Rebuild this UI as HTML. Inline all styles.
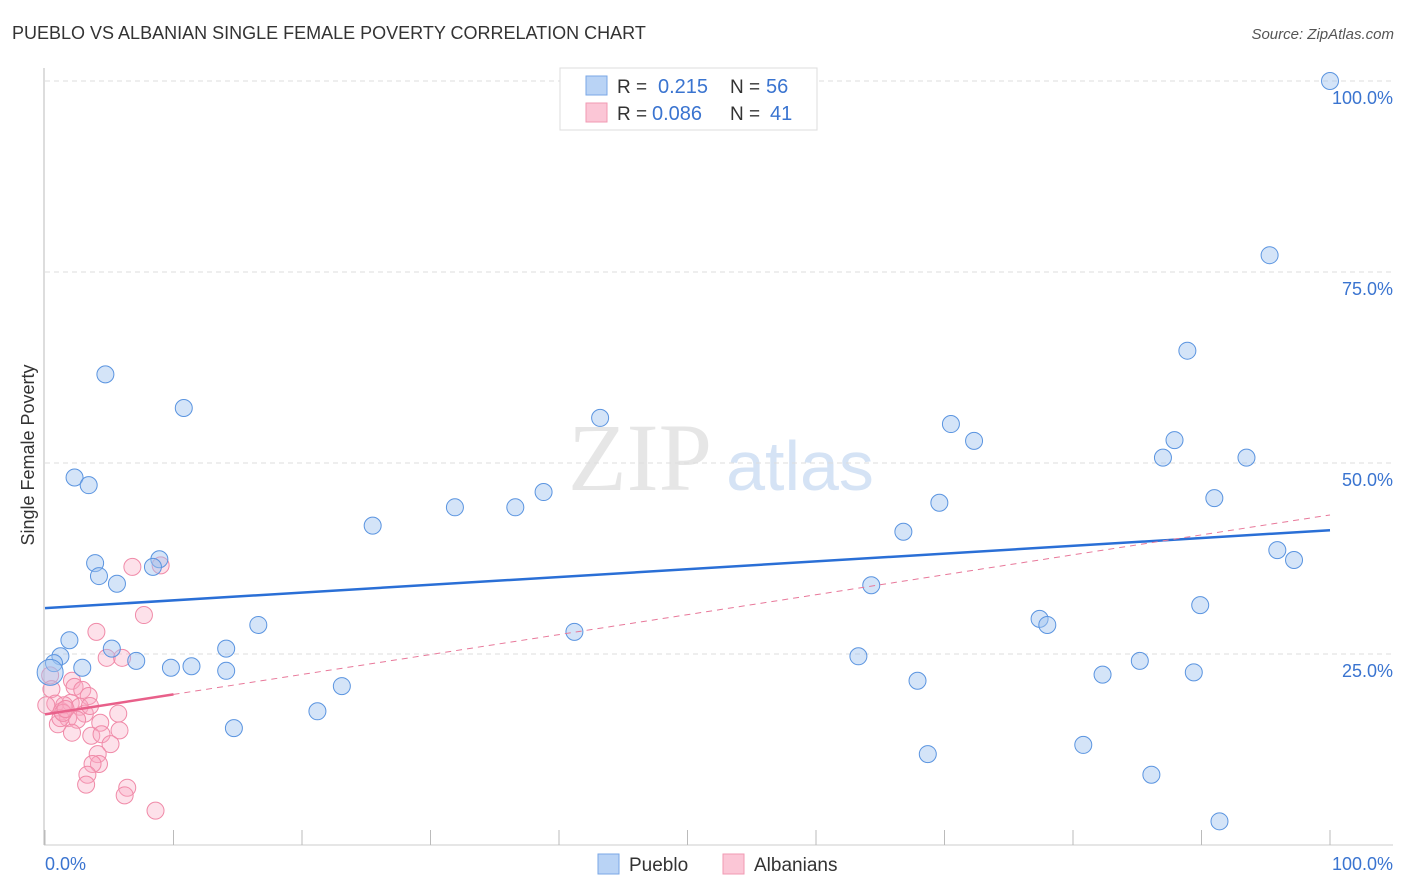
<!DOCTYPE html>
<html><head><meta charset="utf-8"><style>
body{margin:0;background:#fff;font-family:"Liberation Sans",sans-serif;}
svg{display:block}
</style></head><body>
<svg id="c" width="1406" height="892">
<text x="12" y="39" font-size="18" fill="#333">PUEBLO VS ALBANIAN SINGLE FEMALE POVERTY CORRELATION CHART</text>
<text x="1394" y="39" font-size="15" fill="#555" font-style="italic" text-anchor="end">Source: ZipAtlas.com</text>
<text x="34" y="455" font-size="18" fill="#333" text-anchor="middle" transform="rotate(-90 34 455)">Single Female Poverty</text>
<text x="640" y="490" font-size="96" fill="#e6e6e6" font-family="Liberation Serif,serif" text-anchor="middle">ZIP</text>
<text x="800" y="490" font-size="70" fill="#d5e3f5" text-anchor="middle">atlas</text>
<g id="grid"></g><g id="pts"></g><g id="lines"></g>
<g>
<rect x="560" y="68" width="257" height="62" fill="#fff" stroke="#ddd"/>
<rect x="586" y="76" width="21" height="19" fill="#b9d3f5" stroke="#7aa7e6"/>
<rect x="586" y="103" width="21" height="19" fill="#fbc6d6" stroke="#f09ab3"/>
<text x="617" y="93" font-size="19" fill="#333">R = </text><text x="658" y="93" font-size="20" fill="#3a74d0">0.215</text>
<text x="730" y="93" font-size="19" fill="#333">N = </text><text x="766" y="93" font-size="20" fill="#3a74d0">56</text>
<text x="617" y="120" font-size="19" fill="#333">R = </text><text x="652" y="120" font-size="20" fill="#3a74d0">0.086</text>
<text x="730" y="120" font-size="19" fill="#333">N = </text><text x="770" y="120" font-size="20" fill="#3a74d0">41</text>
</g>
<g>
<rect x="598" y="854" width="21" height="20" fill="#b9d3f5" stroke="#7aa7e6"/>
<text x="629" y="871" font-size="19" fill="#333">Pueblo</text>
<rect x="723" y="854" width="21" height="20" fill="#fbc6d6" stroke="#f09ab3"/>
<text x="754" y="871" font-size="19" fill="#333">Albanians</text>
</g>
</svg>
<script>
const yTicks=[25,50,75,100];
const yTickLabels=["25.0%","50.0%","75.0%","100.0%"];
const xTickLabels=["0.0%","100.0%"];
const puebloX=[100,95.3,88.9,4.7,10.8,43.2,70.5,72.3,87.9,87,93.5,2.3,3.4,38.8,31.9,36.6,69.6,91,25.5,66.8,95.9,97.2,3.9,8.9,8.4,4.2,5.6,64.3,89.9,16.6,77.4,78,41.2,1.9,5.2,14.1,1.2,0.7,2.9,7.1,9.8,11.4,14.1,63.3,85.2,82.3,89.4,0.4,23.1,67.9,21.2,14.7,80.8,68.7,86.1,91.4];
const puebloY=[100,77.2,64.7,61.6,57.2,55.9,55.1,52.9,53,50.7,50.7,48.1,47.1,46.2,44.2,44.2,44.8,45.4,41.8,41,38.6,37.3,36.9,37.4,36.4,35.2,34.2,34,31.4,28.8,29.6,28.8,27.9,26.8,25.7,25.7,24.7,23.8,23.2,24.1,23.2,23.4,22.8,24.7,24.1,22.3,22.6,22.6,20.8,21.5,17.5,15.3,13.1,11.9,9.2,3.1];
const albX=[6.8,9,7.7,4,4.8,6,0.4,0.5,0.8,1.3,1,2.1,2.3,2,1.8,2.9,3.4,2.7,3.1,2.5,3.5,4.3,2.1,3.6,5.7,4.4,5.8,5.1,4.1,4.2,3.7,3.3,3.2,6.4,6.2,8.6,1.5,1.2,1.4,0.1,1.6];
const albY=[36.4,36.6,30.1,27.9,24.5,24.5,22.2,20.4,18.5,17.5,15.8,21.5,20.7,18.6,16.6,20.3,19.5,18.1,17.2,16.4,18.2,16,14.7,14.3,17.2,14.5,15,13.2,11.9,10.6,10.6,9.2,7.9,7.5,6.5,4.5,18.3,16.6,17.3,18.3,17.8];
const blueTrend=[31.0,41.2];
const pinkTrend=[17.1,43.2];
const pinkSolidEnd=10;
const NS="http://www.w3.org/2000/svg";
const X=v=>45+v*12.85, Y=v=>845-v*7.64;
function mk(t,a,p){const e=document.createElementNS(NS,t);for(const k in a)e.setAttribute(k,a[k]);p.appendChild(e);return e;}
const grid=document.getElementById('grid');
mk('line',{x1:44,y1:68,x2:44,y2:845,stroke:'#bbb'},grid);
mk('line',{x1:44,y1:845,x2:1393,y2:845,stroke:'#ccc'},grid);
for(let i=0;i<=10;i++){const l=mk('line',{x1:X(i*10),x2:X(i*10),y1:830,y2:845,stroke:'#bbb'},grid);

}
yTicks.forEach((t,i)=>{const l=mk('line',{x1:45,x2:1393,y1:Y(t),y2:Y(t),stroke:'#ddd','stroke-dasharray':'5,4'},grid);


const tx=mk('text',{x:1393,y:Y(t)+23,'font-size':18,fill:'#3a74d0','text-anchor':'end'},grid);tx.textContent=yTickLabels[i];

});
const xl0=mk('text',{x:45,y:870,'font-size':18,fill:'#3a74d0'},grid);xl0.textContent=xTickLabels[0];


const xl1=mk('text',{x:1393,y:870,'font-size':18,fill:'#3a74d0','text-anchor':'end'},grid);xl1.textContent=xTickLabels[1];


const pts=document.getElementById('pts');
albX.forEach((x,i)=>{const c=mk('circle',{cx:X(x),cy:Y(albY[i]),r:8.5,fill:'rgba(248,170,195,0.35)',stroke:'#f08aa8','stroke-width':1},pts);

});
puebloX.forEach((x,i)=>{const c=mk('circle',{cx:X(x),cy:Y(puebloY[i]),r:i==47?13:8.5,fill:'rgba(160,196,240,0.45)',stroke:'#5a94e0','stroke-width':1},pts);

});
const L=document.getElementById('lines');
const b=mk('line',{x1:X(0),y1:Y(blueTrend[0]),x2:X(100),y2:Y(blueTrend[1]),stroke:'#2a6fd6','stroke-width':2.5},L);


const pm=v=>pinkTrend[0]+(pinkTrend[1]-pinkTrend[0])*v/100;
const pd=mk('line',{x1:X(pinkSolidEnd),y1:Y(pm(pinkSolidEnd)),x2:X(100),y2:Y(pinkTrend[1]),stroke:'#e8789a','stroke-width':1,'stroke-dasharray':'6,5'},L);


const ps=mk('line',{x1:X(0),y1:Y(pinkTrend[0]),x2:X(pinkSolidEnd),y2:Y(pm(pinkSolidEnd)),stroke:'#e8608a','stroke-width':2.5},L);


</script>
</body></html>
